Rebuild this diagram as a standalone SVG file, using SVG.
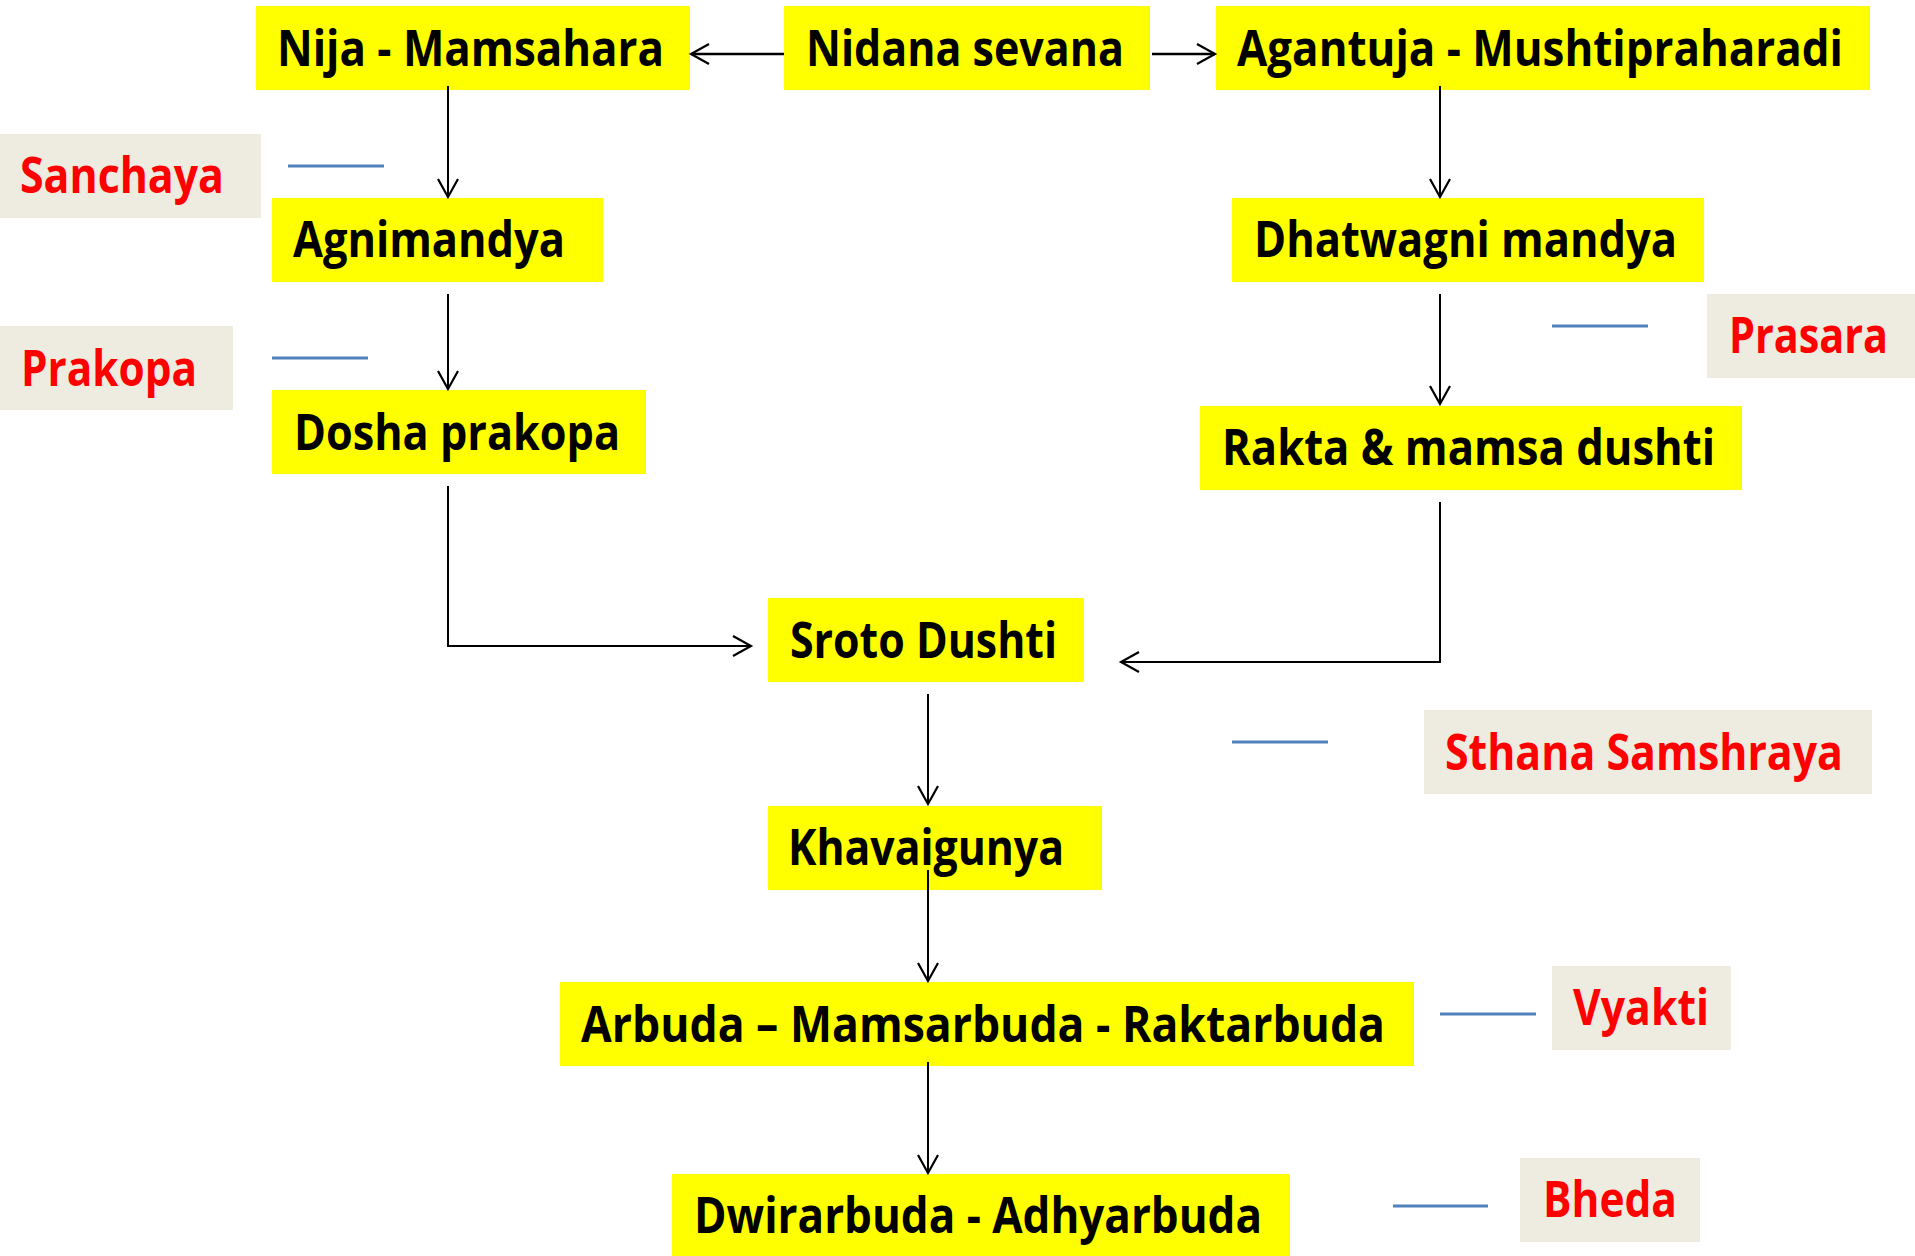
<svg xmlns="http://www.w3.org/2000/svg" width="1915" height="1256" viewBox="0 0 1915 1256">
<defs>
<style>
.n{fill:#FFFF00}
.s{fill:#EEECE1}
.t{font-family:"Open Sans","Noto Sans","Liberation Sans",sans-serif;font-weight:700;font-size:50px;fill:#000}
.r{font-family:"Open Sans","Noto Sans","Liberation Sans",sans-serif;font-weight:700;font-size:50px;fill:#FF0000}
.c{fill:none;stroke:#000;stroke-width:2}
.h{fill:none;stroke:#000;stroke-width:2.6}
.b{stroke:#4F81BD;stroke-width:3}
</style>
<marker id="ah" markerUnits="userSpaceOnUse" markerWidth="24" markerHeight="24" refX="20" refY="12" orient="auto">
<path d="M2,2 L20,12 L2,22" fill="none" stroke="#000" stroke-width="2.2"/>
</marker>
</defs>
<rect width="1915" height="1256" fill="#fff"/>

<g id="nija"><rect class="n" x="256" y="6" width="434" height="84"/><text class="t" x="277" y="66" textLength="387" lengthAdjust="spacingAndGlyphs">Nija - Mamsahara</text></g>
<g id="nidana"><rect class="n" x="784" y="6" width="366" height="84"/><text class="t" x="806" y="66" textLength="318" lengthAdjust="spacingAndGlyphs">Nidana sevana</text></g>
<g id="agantuja"><rect class="n" x="1216" y="6" width="654" height="84"/><text class="t" x="1237" y="66" textLength="606" lengthAdjust="spacingAndGlyphs">Agantuja - Mushtipraharadi</text></g>

<g id="sanchaya"><rect class="s" x="0" y="134" width="261" height="84"/><text class="r" x="20" y="193" textLength="204" lengthAdjust="spacingAndGlyphs">Sanchaya</text></g>
<g id="agnimandya"><rect class="n" x="272" y="198" width="331" height="84"/><text class="t" x="293" y="257" textLength="272" lengthAdjust="spacingAndGlyphs">Agnimandya</text></g>
<g id="prakopa"><rect class="s" x="0" y="326" width="233" height="84"/><text class="r" x="21" y="386" textLength="176" lengthAdjust="spacingAndGlyphs">Prakopa</text></g>
<g id="dosha"><rect class="n" x="272" y="390" width="374" height="84"/><text class="t" x="294" y="450" textLength="326" lengthAdjust="spacingAndGlyphs">Dosha prakopa</text></g>

<g id="dhatwagni"><rect class="n" x="1232" y="198" width="472" height="84"/><text class="t" x="1254" y="257" textLength="423" lengthAdjust="spacingAndGlyphs">Dhatwagni mandya</text></g>
<g id="prasara"><rect class="s" x="1707" y="294" width="208" height="84"/><text class="r" x="1729" y="353" textLength="159" lengthAdjust="spacingAndGlyphs">Prasara</text></g>
<g id="rakta"><rect class="n" x="1200" y="406" width="542" height="84"/><text class="t" x="1222" y="465" textLength="493" lengthAdjust="spacingAndGlyphs">Rakta &amp; mamsa dushti</text></g>

<g id="sroto"><rect class="n" x="768" y="598" width="316" height="84"/><text class="t" x="790" y="658" textLength="267" lengthAdjust="spacingAndGlyphs">Sroto Dushti</text></g>
<g id="sthana"><rect class="s" x="1424" y="710" width="448" height="84"/><text class="r" x="1445" y="770" textLength="398" lengthAdjust="spacingAndGlyphs">Sthana Samshraya</text></g>
<g id="khavaigunya"><rect class="n" x="768" y="806" width="334" height="84"/><text class="t" x="788" y="865" textLength="276" lengthAdjust="spacingAndGlyphs">Khavaigunya</text></g>

<g id="arbuda"><rect class="n" x="560" y="982" width="854" height="84"/><text class="t" x="581" y="1042" textLength="804" lengthAdjust="spacingAndGlyphs">Arbuda – Mamsarbuda - Raktarbuda</text></g>
<g id="vyakti"><rect class="s" x="1552" y="966" width="179" height="84"/><text class="r" x="1573" y="1025" textLength="136" lengthAdjust="spacingAndGlyphs">Vyakti</text></g>
<g id="dwirarbuda"><rect class="n" x="672" y="1174" width="618" height="82"/><text class="t" x="694" y="1233" textLength="568" lengthAdjust="spacingAndGlyphs">Dwirarbuda - Adhyarbuda</text></g>
<g id="bheda"><rect class="s" x="1520" y="1158" width="180" height="84"/><text class="r" x="1543" y="1217" textLength="134" lengthAdjust="spacingAndGlyphs">Bheda</text></g>

<g id="connectors">
<line class="h" x1="784" y1="54" x2="691" y2="54" marker-end="url(#ah)"/>
<line class="h" x1="1152" y1="54" x2="1215" y2="54" marker-end="url(#ah)"/>
<line class="c" x1="448" y1="86" x2="448" y2="197" marker-end="url(#ah)"/>
<line class="c" x1="448" y1="294" x2="448" y2="389" marker-end="url(#ah)"/>
<path class="c" d="M448,486 V646 H751" marker-end="url(#ah)"/>
<line class="c" x1="1440" y1="86" x2="1440" y2="197" marker-end="url(#ah)"/>
<line class="c" x1="1440" y1="294" x2="1440" y2="404" marker-end="url(#ah)"/>
<path class="c" d="M1440,502 V662 H1121" marker-end="url(#ah)"/>
<line class="c" x1="928" y1="694" x2="928" y2="804" marker-end="url(#ah)"/>
<line class="c" x1="928" y1="870" x2="928" y2="981" marker-end="url(#ah)"/>
<line class="c" x1="928" y1="1062" x2="928" y2="1173" marker-end="url(#ah)"/>
<line class="b" x1="288" y1="166" x2="384" y2="166"/>
<line class="b" x1="272" y1="358" x2="368" y2="358"/>
<line class="b" x1="1552" y1="326" x2="1648" y2="326"/>
<line class="b" x1="1232" y1="742" x2="1328" y2="742"/>
<line class="b" x1="1440" y1="1014" x2="1536" y2="1014"/>
<line class="b" x1="1393" y1="1206" x2="1488" y2="1206"/>
</g>
</svg>
